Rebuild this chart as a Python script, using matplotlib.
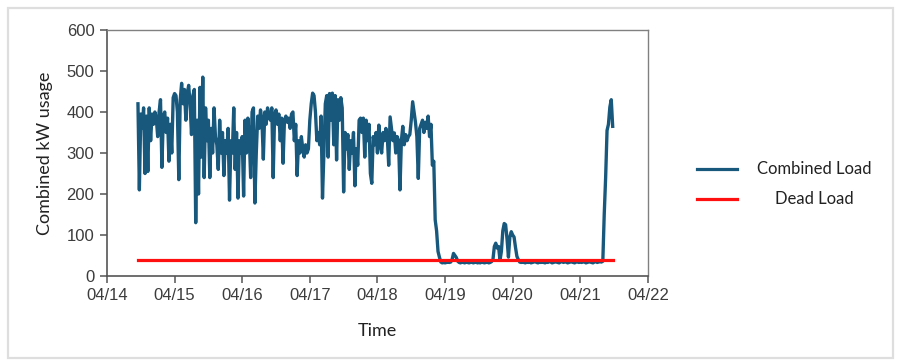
import numpy as np
import pandas as pd
import matplotlib
matplotlib.use('Agg')
import matplotlib.pyplot as plt
import matplotlib.dates as mdates
from matplotlib.lines import Line2D
from matplotlib.patches import Rectangle

# half-hourly readings, starting 04/14 11:00
start_time = '2024-04-14 11:00'
step = '30min'

day_14 = [420, 210, 395, 360, 410, 250, 390, 255, 410, 330, 395, 370, 400, 385,
          340, 400, 430, 265, 390, 400, 350, 385, 280, 370, 300, 435, 445]
day_15 = [440, 400, 235, 430, 470, 420, 455, 380, 445, 465, 420, 345, 440, 455,
          130, 380, 200, 460, 290, 485, 240, 410, 330, 380, 240, 360, 300, 410,
          340, 320, 260, 380, 300, 350, 245, 330, 300, 360, 185, 330, 300, 410,
          260, 350, 190, 330, 300, 340]
day_16 = [195, 380, 300, 385, 340, 240, 400, 410, 178, 300, 390, 360, 405, 380,
          285, 400, 370, 410, 390, 380, 410, 240, 395, 405, 370, 395, 330, 385,
          275, 380, 390, 375, 385, 360, 395, 400, 330, 370, 245, 330, 300, 340,
          310, 290, 320, 300, 310, 380]
day_17 = [420, 446, 440, 400, 330, 350, 320, 390, 190, 300, 420, 440, 290, 445,
          380, 446, 320, 440, 283, 430, 380, 435, 410, 205, 350, 310, 345, 260,
          330, 300, 350, 220, 310, 270, 380, 385, 350, 385, 290, 380, 330, 370,
          250, 226, 340, 320, 350, 300]
day_18 = [368, 320, 300, 350, 330, 360, 340, 270, 388, 360, 330, 349, 300, 340,
          330, 210, 330, 365, 320, 345, 330, 340, 345, 380, 425, 400, 375, 340,
          238, 360, 370, 380, 350, 375, 360, 390, 340, 370, 270, 280, 137, 110,
          60, 46, 34, 32, 33, 32]
day_19 = [33, 35, 33, 34, 40, 55, 50, 45, 36, 33, 32, 34, 33, 32, 34, 33, 32,
          33, 34, 32, 33, 34, 32, 33, 32, 34, 33, 32, 33, 34, 32, 33, 35, 40,
          72, 80, 68, 72, 38, 60, 110, 128, 125, 90, 46, 95, 108, 100]
day_20 = [95, 70, 48, 40, 34, 33, 35, 33, 32, 34, 33, 35, 32, 33, 34, 36, 33,
          32, 34, 33, 35, 33, 32, 34, 33, 36, 34, 32, 33, 35, 34, 33, 32, 34,
          36, 33, 35, 34, 32, 33, 35, 34, 33, 32, 34, 35, 33, 34]
day_21 = [33, 35, 34, 32, 33, 35, 34, 33, 32, 34, 36, 33, 34, 35, 34, 36, 150,
          240, 355, 370, 412, 430, 365]

combined_load = day_14 + day_15 + day_16 + day_17 + day_18 + day_19 + day_20 + day_21
dead_load = 40

x_start = '2024-04-14'
x_end = '2024-04-22'
y_ticks = [0, 100, 200, 300, 400, 500, 600]

times = pd.date_range(start_time, periods=len(combined_load), freq=step)

plt.rcParams['font.family'] = ['Liberation Sans', 'DejaVu Sans']
label_font = ['Lato', 'DejaVu Sans']
tick_color = '#3c3c3c'

fig = plt.figure(figsize=(9.19, 3.64), dpi=100)
ax = fig.add_axes([0.1164, 0.2418, 0.5886, 0.6758])

ax.plot(times, combined_load, color='#17587c', linewidth=2.4, zorder=2)
ax.plot([times[0], times[-1]], [dead_load, dead_load], color='#ff1010',
        linewidth=2.3, zorder=3)

ax.set_xlim(pd.Timestamp(x_start), pd.Timestamp(x_end))
ax.set_ylim(y_ticks[0], y_ticks[-1])
ax.set_yticks(y_ticks)
ax.xaxis.set_major_locator(mdates.DayLocator())
ax.xaxis.set_major_formatter(mdates.DateFormatter('%m/%d'))

for side in ['left', 'bottom']:
    ax.spines[side].set_color('#555555')
    ax.spines[side].set_linewidth(1.2)
for side in ['top', 'right']:
    ax.spines[side].set_color('#808080')
    ax.spines[side].set_linewidth(1.0)

ax.tick_params(axis='both', direction='out', length=5, width=1.1,
               color='#555555', labelsize=12, labelcolor=tick_color, pad=4)

ax.set_ylabel('Combined kW usage', fontsize=13, family=label_font,
              color='#222222', labelpad=10)
ax.set_xlabel('Time', fontsize=13, family=label_font, color='#222222',
              labelpad=14)

# legend drawn by hand so the labels stay centred like the original
legend_items = [('Combined Load', '#17587c', 0.536), ('Dead Load', '#ff1010', 0.453)]
for text, color, yy in legend_items:
    fig.add_artist(Line2D([0.7585, 0.8020], [yy, yy], color=color,
                          linewidth=2.3, transform=fig.transFigure))
    fig.text(0.886, yy, text, ha='center', va='center', fontsize=12,
             family=label_font, color='#222222')

# light frame round the whole picture
fig.add_artist(Rectangle((0.0087, 0.0165), 0.963, 0.962, fill=False,
                         edgecolor='#dedede', linewidth=1.6,
                         transform=fig.transFigure))

fig.savefig('out.png', dpi=100)
